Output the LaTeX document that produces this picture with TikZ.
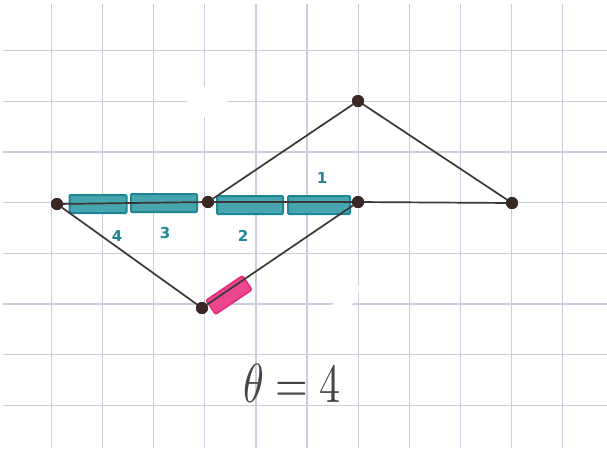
\documentclass[tikz,border=0pt]{standalone}
\usepackage{fontspec}
\setsansfont{DejaVu Sans}
\begin{document}
\begin{tikzpicture}[x=1pt,y=-1pt,
  gridline/.style={draw={rgb,255:red,204;green,204;blue,220},line width=1.2pt},
  vtx/.style={circle,fill={rgb,255:red,58;green,40;blue,36},inner sep=0pt,minimum size=12pt},
  edge/.style={draw={rgb,255:red,60;green,55;blue,55},line width=1.7pt},
  tealbox/.style={draw={rgb,255:red,30;green,135;blue,148},fill={rgb,255:red,70;green,165;blue,175},line width=2pt,inner sep=0pt,minimum height=18pt,rounded corners=1pt},
  pinkbox/.style={draw={rgb,255:red,230;green,40;blue,120},fill={rgb,255:red,236;green,70;blue,140},line width=1.5pt,inner sep=0pt,minimum height=17pt,minimum width=44pt,rounded corners=2pt},
  teallbl/.style={text={rgb,255:red,30;green,135;blue,148},font=\sffamily\bfseries\fontsize{15}{15}\selectfont,inner sep=0pt},
  whiteout/.style={fill=white,draw=none}
]
\useasboundingbox (0,0) rectangle (607,448);
\fill[white] (0,0) rectangle (607,448);
% grid
\foreach \gx in {51.5,102.6,153.7,204.8,255.9,307,358.1,409.2,460.3,511.4,562.5}
  \draw[gridline] (\gx,4) -- (\gx,448);
\foreach \gy in {50.5,101.2,151.9,202.6,253.3,304,354.7,405.4}
  \draw[gridline] (3,\gy) -- (607,\gy);
% white-out blobs
\fill[whiteout] (207,102) ellipse (20 and 15);
\fill[whiteout,rotate around={-40:(345,300)}] (345,300) ellipse (8 and 20);
% vertices
\node[vtx] (A) at (57,204) {};
\node[vtx] (B) at (208,202) {};
\node[vtx] (C) at (358,202) {};
\node[vtx] (D) at (512,203) {};
\node[vtx] (E) at (358,101) {};
\node[vtx] (F) at (202,308) {};
% teal boxes
\node[tealbox,minimum width=57pt] (t4) at (98,204) {};
\node[tealbox,minimum width=66pt] (t3) at (164,203) {};
\node[tealbox,minimum width=66pt] (t2) at (250,205) {};
\node[tealbox,minimum width=62pt] (t1) at (319,205) {};
% pink box
\node[pinkbox,rotate=34] (p) at (229,295) {};
% edges
\draw[edge] (A) -- (B);
\draw[edge] (B) -- (C);
\draw[edge] (C) -- (D);
\draw[edge] (B) -- (E);
\draw[edge] (E) -- (D);
\draw[edge] (A) -- (F);
\draw[edge] (F) -- (C);
% redraw vertices on top
\node[vtx] at (A) {};
\node[vtx] at (B) {};
\node[vtx] at (C) {};
\node[vtx] at (D) {};
\node[vtx] at (E) {};
\node[vtx] at (F) {};
% labels
\node[teallbl] (l4) at (117,236) {4};
\node[teallbl] (l3) at (165,233) {3};
\node[teallbl] (l2) at (243,236) {2};
\node[teallbl] (l1) at (322,178) {1};
\node[text={rgb,255:red,70;green,70;blue,70},inner sep=0pt] (th) at (292,383) {\scalebox{4.2}[5.5]{$\theta = 4$}};
\end{tikzpicture}
\end{document}
